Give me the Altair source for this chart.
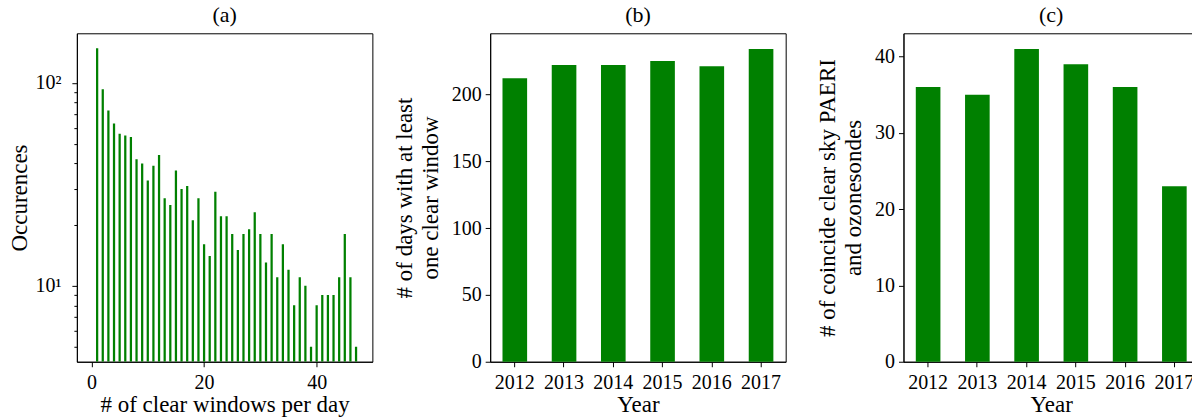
import altair as alt
import pandas as pd

# (a) histogram of clear windows per day
windows = list(range(1, 48))
occurrences = [148, 93, 73, 63, 56, 55, 54, 42, 40, 33, 39, 44, 27, 25, 37, 30,
               31, 21, 27, 16, 14, 29, 22, 22, 18, 15, 18, 19, 23, 18, 13, 18,
               11, 16, 12, 8, 11, 10, 5, 8, 9, 9, 9, 11, 18, 11, 5]

# (b) and (c) yearly counts
years = ["2012", "2013", "2014", "2015", "2016", "2017"]
days_clear = [212, 222, 222, 225, 221, 234]
coincident = [36, 35, 41, 39, 36, 23]

x_ticks_a = [0, 20, 40]
major_ticks = [10, 100]
minor_ticks = [5, 6, 7, 8, 9, 20, 30, 40, 50, 60, 70, 80, 90]
y_ticks_b = [0, 50, 100, 150, 200]
y_ticks_c = [0, 10, 20, 30, 40]

FONT = "Liberation Serif"
GREEN = "#008000"
PW, PH = 296, 329


def panel_title(text):
    return alt.TitleParams(text, font=FONT, fontSize=22, fontWeight="normal",
                           color="black", offset=6)


hist = pd.DataFrame({"n": windows, "count": occurrences})
yearly = pd.DataFrame({"year": years, "days": days_clear, "coincident": coincident})

base_a = alt.Chart(hist).transform_calculate(lo="datum.n - 0.2", hi="datum.n + 0.2")
x_scale_a = alt.Scale(domain=[-2.6, 49.9], nice=False, zero=False)
y_scale_a = alt.Scale(type="log", domain=[4.22, 175.3], nice=False)

bars_a = base_a.mark_bar(color=GREEN, clip=True).encode(
    x=alt.X("lo:Q", scale=x_scale_a,
            axis=alt.Axis(values=x_ticks_a, format="d", title="# of clear windows per day")),
    x2="hi:Q",
    y=alt.Y("count:Q", scale=y_scale_a,
            axis=alt.Axis(values=major_ticks, orient="left", title="Occurences",
                          labelPadding=11, titlePadding=3,
                          labelExpr="datum.value > 50 ? '10²' : '10¹'")),
    y2=alt.value("height"),
)
# invisible layer that only carries the minor log ticks
minor_a = base_a.mark_point(opacity=0).encode(
    x=alt.value(0),
    y=alt.Y("count:Q", scale=y_scale_a,
            axis=alt.Axis(values=minor_ticks, orient="left", labels=False,
                          title=None, tickSize=3, domain=False)),
)
panel_a = alt.layer(bars_a, minor_a).resolve_axis(y="independent").properties(
    width=PW, height=PH, title=panel_title("(a)"))

x_year = alt.X("year:N", scale=alt.Scale(paddingInner=0.5, paddingOuter=0.25),
               axis=alt.Axis(title="Year", labelAngle=0))

panel_b = alt.Chart(yearly).mark_bar(color=GREEN).encode(
    x=x_year,
    y=alt.Y("days:Q", scale=alt.Scale(domain=[0, 245.7], nice=False),
            axis=alt.Axis(values=y_ticks_b, titlePadding=9,
                          title=["# of days with at least", "one clear window"])),
).properties(width=PW, height=PH, title=panel_title("(b)"))

panel_c = alt.Chart(yearly).mark_bar(color=GREEN).encode(
    x=x_year,
    y=alt.Y("coincident:Q", scale=alt.Scale(domain=[0, 43.05], nice=False),
            axis=alt.Axis(values=y_ticks_c, titlePadding=9,
                          title=["# of coincide clear sky PAERI", "and ozonesondes"])),
).properties(width=PW, height=PH, title=panel_title("(c)"))

chart = alt.hconcat(panel_a, panel_b, panel_c, spacing=118, bounds="flush").properties(
    padding={"left": 8, "top": 3, "right": -8, "bottom": 0}
).configure_view(
    stroke="black", strokeWidth=1
).configure_axis(
    labelFont=FONT, titleFont=FONT, labelFontSize=20, titleFontSize=23,
    labelColor="black", titleColor="black", titleFontWeight="normal",
    domainColor="black", tickColor="black", tickSize=5, grid=False,
    labelPadding=4, titleLineHeight=26
).configure_axisX(
    labelPadding=6, titlePadding=1
)

chart.save("out.html", embed_options={"renderer": "svg", "actions": False})
